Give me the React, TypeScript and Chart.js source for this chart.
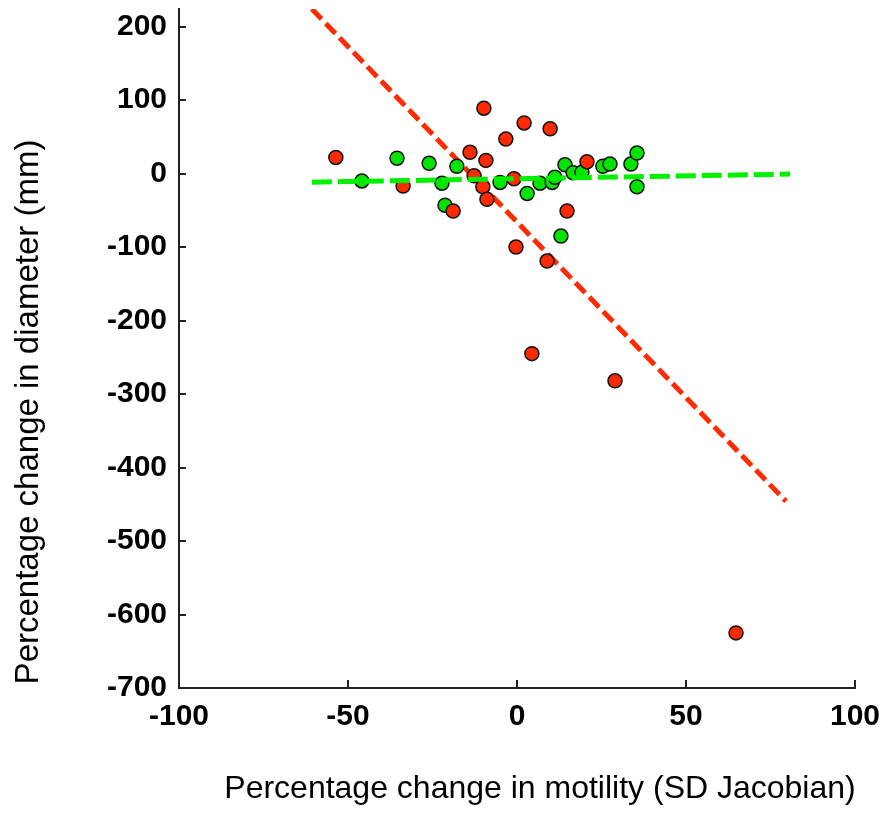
import React, { useEffect, useRef } from 'react';
import { Chart, registerables } from 'chart.js';

Chart.register(...registerables);

// Red group (scatter)
const redX = [-53.6, -33.7, -9.8, -13.9, -9.2, -3.3, 2.1, 9.8, -12.7, -10.1, -8.9, -0.9, -18.9, 20.7, 14.8, -0.3, 8.9, 4.4, 29, 64.8];
const redY = [22, -17, 89, 29, 18, 47, 69, 61, -3, -18, -35, -7, -51, 16, -51, -100, -119, -245, -282, -625];

// Green group (scatter)
const greenX = [-45.9, -35.5, -26, -22.2, -21.3, -17.8, -5, 3, 6.8, 10.4, 11.2, 14.2, 16.6, 19.2, 25.4, 27.5, 33.7, 35.5, 35.5, 13];
const greenY = [-10, 21, 14, -13, -43, 10, -12, -27, -13, -12, -5, 12, 1, 2, 10, 13, 13, 28, -18, -85];

// Fitted lines
const redFitX = [-60.7, 79.6];
const redFitY = [224, -446];
const greenFitX = [-60.7, 80.8];
const greenFitY = [-11.6, -0.7];

// Axes
const xTicks = [-100, -50, 0, 50, 100];
const yTicks = [-700, -600, -500, -400, -300, -200, -100, 0, 100, 200];
const xRange = [-100, 100];
const yRange = [-700, 224];
const xTitle = 'Percentage change in motility (SD Jacobian)';
const yTitle = 'Percentage change in diameter (mm)';

const RED = '#FF2A00';
const GREEN_PT = '#00E400';
const GREEN_LINE = '#00F000';
const FONT = '"Liberation Sans", Arial, sans-serif';

const toPts = (xs: number[], ys: number[]) => xs.map((x, i) => ({ x, y: ys[i] }));

const decorPlugin = {
  id: 'decor',
  afterDraw(chart: any) {
    const { ctx, chartArea } = chart;
    const x = chart.scales.x;
    const y = chart.scales.y;
    ctx.save();
    ctx.strokeStyle = '#222';
    ctx.lineWidth = 2;
    ctx.beginPath();
    for (const t of x.ticks) {
      const px = Math.round(x.getPixelForValue(t.value));
      ctx.moveTo(px, chartArea.bottom);
      ctx.lineTo(px, chartArea.bottom - 8);
    }
    for (const t of y.ticks) {
      const py = Math.round(y.getPixelForValue(t.value));
      ctx.moveTo(chartArea.left, py);
      ctx.lineTo(chartArea.left + 7, py);
    }
    ctx.stroke();

    ctx.fillStyle = '#000';
    ctx.textAlign = 'center';
    ctx.textBaseline = 'alphabetic';
    ctx.font = `32px ${FONT}`;
    ctx.fillText(xTitle, 540, 798);
    ctx.font = `33px ${FONT}`;
    ctx.translate(38, 412);
    ctx.rotate(-Math.PI / 2);
    ctx.fillText(yTitle, 0, 0);
    ctx.restore();
  },
};

export default function App() {
  const ref = useRef<HTMLCanvasElement>(null);

  useEffect(() => {
    document.body.style.margin = '0';
    const canvas = ref.current;
    if (!canvas) return;
    const chart = new Chart(canvas, {
      type: 'scatter',
      data: {
        datasets: [
          {
            label: 'green fit',
            type: 'line',
            data: toPts(greenFitX, greenFitY),
            borderColor: GREEN_LINE,
            borderWidth: 5,
            borderDash: [20, 6],
            pointRadius: 0,
            fill: false,
            order: 0,
          } as any,
          {
            label: 'red',
            data: toPts(redX, redY),
            backgroundColor: RED,
            borderColor: '#111',
            borderWidth: 1.5,
            pointRadius: 7,
            order: 1,
          },
          {
            label: 'green',
            data: toPts(greenX, greenY),
            backgroundColor: GREEN_PT,
            borderColor: '#111',
            borderWidth: 1.5,
            pointRadius: 7,
            order: 2,
          },
          {
            label: 'red fit',
            type: 'line',
            data: toPts(redFitX, redFitY),
            borderColor: RED,
            borderWidth: 5,
            borderDash: [14, 6],
            pointRadius: 0,
            fill: false,
            order: 3,
          } as any,
        ],
      },
      options: {
        animation: false,
        responsive: false,
        layout: { padding: { left: 0, right: 30, top: 9, bottom: 0 } },
        plugins: {
          legend: { display: false },
          tooltip: { enabled: false },
        },
        scales: {
          x: {
            type: 'linear',
            min: xRange[0],
            max: xRange[1],
            afterBuildTicks: (s: any) => {
              s.ticks = xTicks.map((v) => ({ value: v }));
            },
            afterFit: (s: any) => {
              s.height = 836 - 688;
              s.paddingLeft = 0;
              s.paddingRight = 0;
            },
            grid: { display: false, drawTicks: false },
            border: { display: true, color: '#222', width: 2 },
            ticks: {
              padding: 11,
              color: '#000',
              font: { family: FONT, size: 30, weight: 'bold' },
              maxRotation: 0,
              autoSkip: false,
            },
          },
          y: {
            type: 'linear',
            min: yRange[0],
            max: yRange[1],
            afterBuildTicks: (s: any) => {
              s.ticks = yTicks.map((v) => ({ value: v }));
            },
            afterFit: (s: any) => {
              s.width = 179;
              s.paddingTop = 0;
              s.paddingBottom = 0;
            },
            grid: { display: false, drawTicks: false },
            border: { display: true, color: '#222', width: 2 },
            ticks: {
              padding: 12,
              color: '#000',
              font: { family: FONT, size: 30, weight: 'bold' },
              autoSkip: false,
            },
          },
        },
      },
      plugins: [decorPlugin],
    });
    return () => chart.destroy();
  }, []);

  return (
    <div style={{ width: 885, height: 836 }}>
      <canvas ref={ref} width={885} height={836} style={{ display: 'block' }} />
    </div>
  );
}
